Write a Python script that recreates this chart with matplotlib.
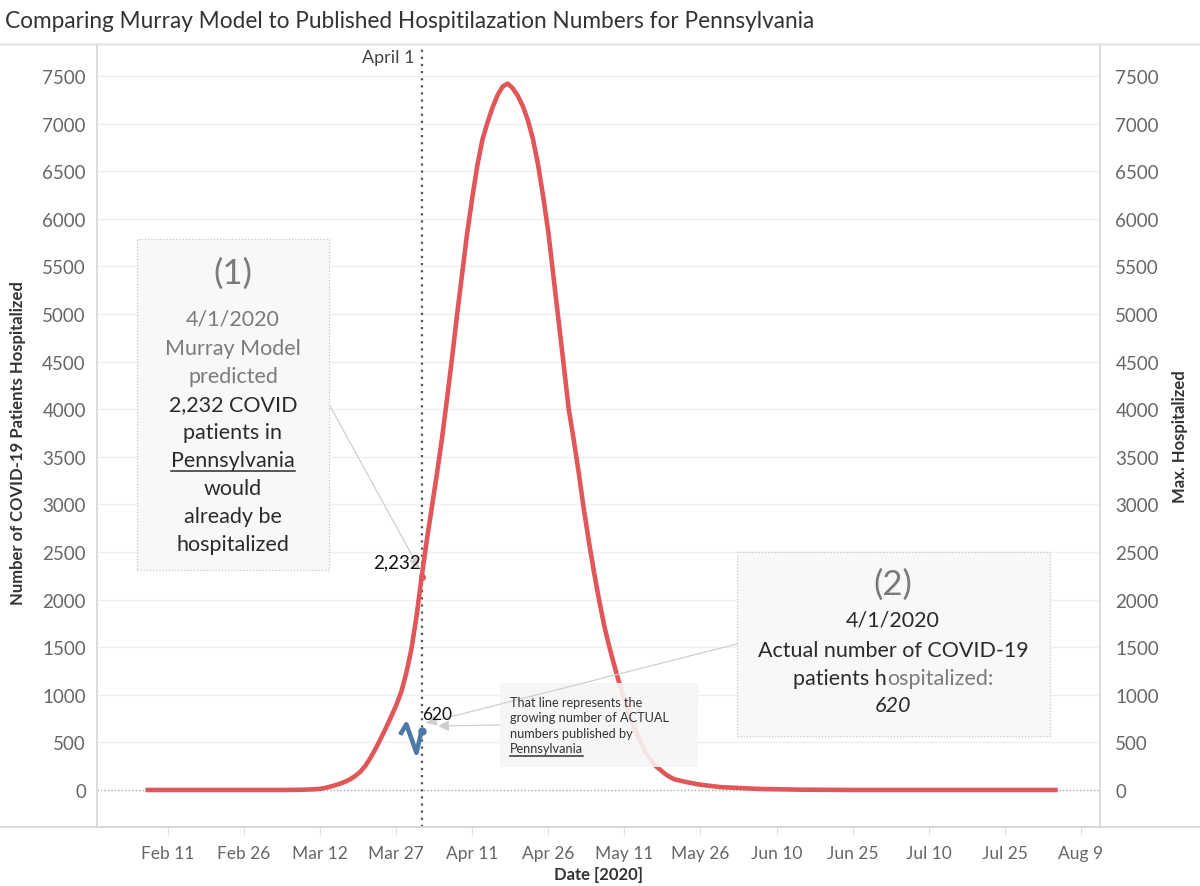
import datetime as dt
import matplotlib
matplotlib.use("Agg")
import matplotlib.pyplot as plt
from matplotlib.patches import Rectangle
from matplotlib.lines import Line2D
import pandas as pd

plt.rcParams['font.family'] = ['Lato', 'DejaVu Sans']

# Murray model projection
model_dates = ["2020-02-07", "2020-03-05", "2020-03-08", "2020-03-10", "2020-03-11",
               "2020-03-12", "2020-03-13", "2020-03-14", "2020-03-15", "2020-03-16",
               "2020-03-17", "2020-03-18", "2020-03-19", "2020-03-20", "2020-03-21",
               "2020-03-22", "2020-03-23", "2020-03-24", "2020-03-25", "2020-03-26",
               "2020-03-27", "2020-03-28", "2020-03-29", "2020-03-30", "2020-03-31",
               "2020-04-01", "2020-04-02", "2020-04-03", "2020-04-04", "2020-04-05",
               "2020-04-06", "2020-04-07", "2020-04-08", "2020-04-09", "2020-04-10",
               "2020-04-11", "2020-04-12", "2020-04-13", "2020-04-14", "2020-04-15",
               "2020-04-16", "2020-04-17", "2020-04-18", "2020-04-19", "2020-04-20",
               "2020-04-21", "2020-04-22", "2020-04-23", "2020-04-24", "2020-04-25",
               "2020-04-26", "2020-04-27", "2020-04-28", "2020-04-29", "2020-04-30",
               "2020-05-01", "2020-05-02", "2020-05-03", "2020-05-04", "2020-05-05",
               "2020-05-06", "2020-05-07", "2020-05-08", "2020-05-09", "2020-05-10",
               "2020-05-11", "2020-05-12", "2020-05-13", "2020-05-14", "2020-05-15",
               "2020-05-16", "2020-05-17", "2020-05-18", "2020-05-19", "2020-05-20",
               "2020-05-21", "2020-05-23", "2020-05-26", "2020-05-30", "2020-06-07",
               "2020-06-15", "2020-06-25", "2020-08-04"]
model_values = [0, 0, 2, 5, 8,
                12, 22, 35, 50, 67,
                88, 115, 150, 195, 260,
                345, 440, 545, 655, 770,
                890, 1030, 1230, 1480, 1820,
                2232, 2610, 2960, 3310, 3680,
                4100, 4530, 4990, 5420, 5850,
                6220, 6560, 6830, 7010, 7170,
                7300, 7390, 7420, 7370, 7290,
                7180, 7030, 6830, 6560, 6230,
                5860, 5400, 4940, 4480, 4010,
                3680, 3330, 2950, 2610, 2290,
                2000, 1730, 1510, 1310, 1120,
                950, 790, 650, 520, 410,
                330, 260, 215, 170, 135,
                110, 85, 55, 30, 10,
                3, 0, 0]

# published actual hospitalizations
actual_dates = ["2020-03-28", "2020-03-29", "2020-03-31", "2020-04-01"]
actual_values = [600, 690, 390, 620]

y_ticks = list(range(0, 7501, 500))
x_tick_labels = ["Feb 11", "Feb 26", "Mar 12", "Mar 27", "Apr 11", "Apr 26", "May 11",
                 "May 26", "Jun 10", "Jun 25", "Jul 10", "Jul 25", "Aug 9"]
x_tick_dates = pd.date_range("2020-02-11", periods=len(x_tick_labels), freq="15D")

marker_date = pd.Timestamp("2020-04-01")
model_at_marker = 2232
actual_at_marker = 620

RED = "#e15759"
BLUE = "#4e79a7"
W, H = 1200, 887


def fx(x):
    return x / W


def fy(y):
    return 1 - y / H


fig = plt.figure(figsize=(12, 8.87), dpi=100)
ax = fig.add_axes([fx(97), fy(828), fx(1100) - fx(97), fy(45) - fy(828)])

md = pd.to_datetime(model_dates)
ad = pd.to_datetime(actual_dates)

ax.set_xlim(dt.datetime(2020, 1, 28), dt.datetime(2020, 8, 12, 19))
ax.set_ylim(-389, 7836)

for v in y_ticks[1:]:
    ax.axhline(v, color="#efefef", lw=1, zorder=1)
ax.axhline(0, color="#aaaaaa", lw=1, ls=(0, (1, 1.5)), zorder=1)

ax.axvline(marker_date, color="#555555", lw=1.6, ls=(0, (1, 2.2)), zorder=2)

ax.plot(md, model_values, color=RED, lw=3.3, zorder=3, solid_joinstyle="round")
ax.plot(ad, actual_values, color=BLUE, lw=3.3, zorder=3, solid_joinstyle="round")
ax.plot([marker_date], [model_at_marker], "o", color=RED, ms=4, zorder=4)
ax.plot([marker_date], [actual_at_marker], "o", color=BLUE, ms=5, zorder=4)

# axes styling
ax.spines["top"].set_visible(False)
for s in ["left", "right", "bottom"]:
    ax.spines[s].set_color("#d6d6d6")
    ax.spines[s].set_linewidth(1.2)

ax.set_yticks(y_ticks)
ax.set_yticklabels([str(v) for v in y_ticks])
ax.tick_params(axis="y", length=0, labelsize=13.5, labelcolor="#666666", pad=8)
ax.set_xticks(x_tick_dates)
ax.set_xticklabels(x_tick_labels)
ax.tick_params(axis="x", length=6, color="#e0e0e0", labelsize=12.5, labelcolor="#666666", pad=7)

ax2 = ax.twinx()
ax2.set_ylim(ax.get_ylim())
ax2.set_yticks(y_ticks)
ax2.set_yticklabels([str(v) for v in y_ticks])
ax2.tick_params(axis="y", length=0, labelsize=13.5, labelcolor="#666666", pad=11)
for s in ["top", "left", "bottom", "right"]:
    ax2.spines[s].set_visible(False)

fig.add_artist(Line2D([0, 1], [fy(45), fy(45)], color="#e6e6e6", lw=1.8))
fig.add_artist(Line2D([0, 1], [fy(828), fy(828)], color="#d6d6d6", lw=1.2))

fig.text(fx(5), fy(21), "Comparing Murray Model to Published Hospitilazation Numbers for Pennsylvania",
         fontsize=16.3, color="#333333", ha="left", va="center")
fig.text(fx(18), fy(443), "Number of COVID-19 Patients Hospitalized", rotation=90,
         fontsize=12, fontweight="bold", color="#333333", ha="center", va="center")
fig.text(fx(1180), fy(437), "Max. Hospitalized", rotation=90,
         fontsize=12, fontweight="bold", color="#333333", ha="center", va="center")
fig.text(fx(598), fy(875), "Date [2020]", fontsize=12, fontweight="bold",
         color="#333333", ha="center", va="center")
fig.text(fx(415), fy(58), "April 1", fontsize=13, color="#444444", ha="right", va="center")

renderer = fig.canvas.get_renderer()


def ftext(x, y, s, **kw):
    kw.setdefault("ha", "center")
    kw.setdefault("va", "center")
    return ax.text(fx(x), fy(y), s, transform=fig.transFigure, zorder=7, **kw)


def underline(t, color):
    bb = t.get_window_extent(renderer)
    y = bb.y0 - 1
    fig.add_artist(Line2D([bb.x0 / W, bb.x1 / W], [y / H, y / H], color=color, lw=1.1, zorder=8))


# box (1)
ax.add_patch(Rectangle((fx(137), fy(571)), fx(329) - fx(137), fy(240) - fy(571),
                       transform=fig.transFigure, facecolor="#f8f8f8", edgecolor="#c8c8c8",
                       ls=(0, (1, 1.5)), lw=0.9, clip_on=False, zorder=5))
GRAY_T = "#7b7b7b"
DARK_T = "#2b2b2b"
ftext(233, 274, "(1)", fontsize=25, color=GRAY_T)
box1_lines = [("4/1/2020", 320, GRAY_T), ("Murray Model", 349, GRAY_T), ("predicted", 377, GRAY_T),
              ("2,232 COVID", 405, DARK_T), ("patients in", 433, DARK_T), ("Pennsylvania", 461, DARK_T),
              ("would", 489, DARK_T), ("already be", 517, DARK_T), ("hospitalized", 545, DARK_T)]
for s, y, c in box1_lines:
    t = ftext(233, y, s, fontsize=15.5, color=c)
    if s == "Pennsylvania":
        underline(t, c)

# box (2)
ax.add_patch(Rectangle((fx(737), fy(737)), fx(1050) - fx(737), fy(553) - fy(737),
                       transform=fig.transFigure, facecolor="#f8f8f8", edgecolor="#c8c8c8",
                       ls=(0, (1, 1.5)), lw=0.9, clip_on=False, zorder=5))
ftext(893, 585, "(2)", fontsize=25, color=GRAY_T)
ftext(893, 621, "4/1/2020", fontsize=15.5, color=DARK_T)
ftext(893, 651, "Actual number of COVID-19", fontsize=15.5, color=DARK_T)
p1 = ftext(0, 679, "patients h", fontsize=15.5, color=DARK_T, ha="left")
p2 = ftext(0, 679, "ospitalized:", fontsize=15.5, color=GRAY_T, ha="left")
w1 = p1.get_window_extent(renderer).width
w2 = p2.get_window_extent(renderer).width
x0 = 893 - (w1 + w2) / 2
p1.set_x(fx(x0))
p2.set_x(fx(x0 + w1))
ftext(893, 706, "620", fontsize=15.5, color=DARK_T, style="italic")

# small note box
ax.add_patch(Rectangle((fx(500), fy(768)), fx(698) - fx(500), fy(684) - fy(768),
                       transform=fig.transFigure, facecolor="#f6f6f6", edgecolor="none",
                       alpha=0.9, clip_on=False, zorder=5))
note_lines = ["That line represents the", "growing number of ACTUAL", "numbers published by", "Pennsylvania"]
for i, s in enumerate(note_lines):
    t = ftext(510, 703 + i * 15.5, s, fontsize=9.2, color="#333333", ha="left")
    if s == "Pennsylvania":
        underline(t, "#333333")

# connectors
arrow_kw = dict(arrowstyle="-|>", color="#cfcfcf", lw=0.9, mutation_scale=16, shrinkA=0, shrinkB=0)
ax.annotate("", xy=(fx(419), fy(569)), xytext=(fx(330), fy(407)),
            xycoords="figure fraction", textcoords="figure fraction", arrowprops=arrow_kw, zorder=6)
ax.annotate("", xy=(fx(426), fy(724)), xytext=(fx(737), fy(645)),
            xycoords="figure fraction", textcoords="figure fraction", arrowprops=arrow_kw, zorder=6)
ax.annotate("", xy=(fx(438), fy(727)), xytext=(fx(500), fy(726)),
            xycoords="figure fraction", textcoords="figure fraction", arrowprops=arrow_kw, zorder=6)

ftext(421, 563, "{:,}".format(model_at_marker), fontsize=13.5, color="#111111", ha="right")
ftext(422, 715, str(actual_at_marker), fontsize=12.5, color="#111111", ha="left")

fig.savefig("out.png", dpi=100)
